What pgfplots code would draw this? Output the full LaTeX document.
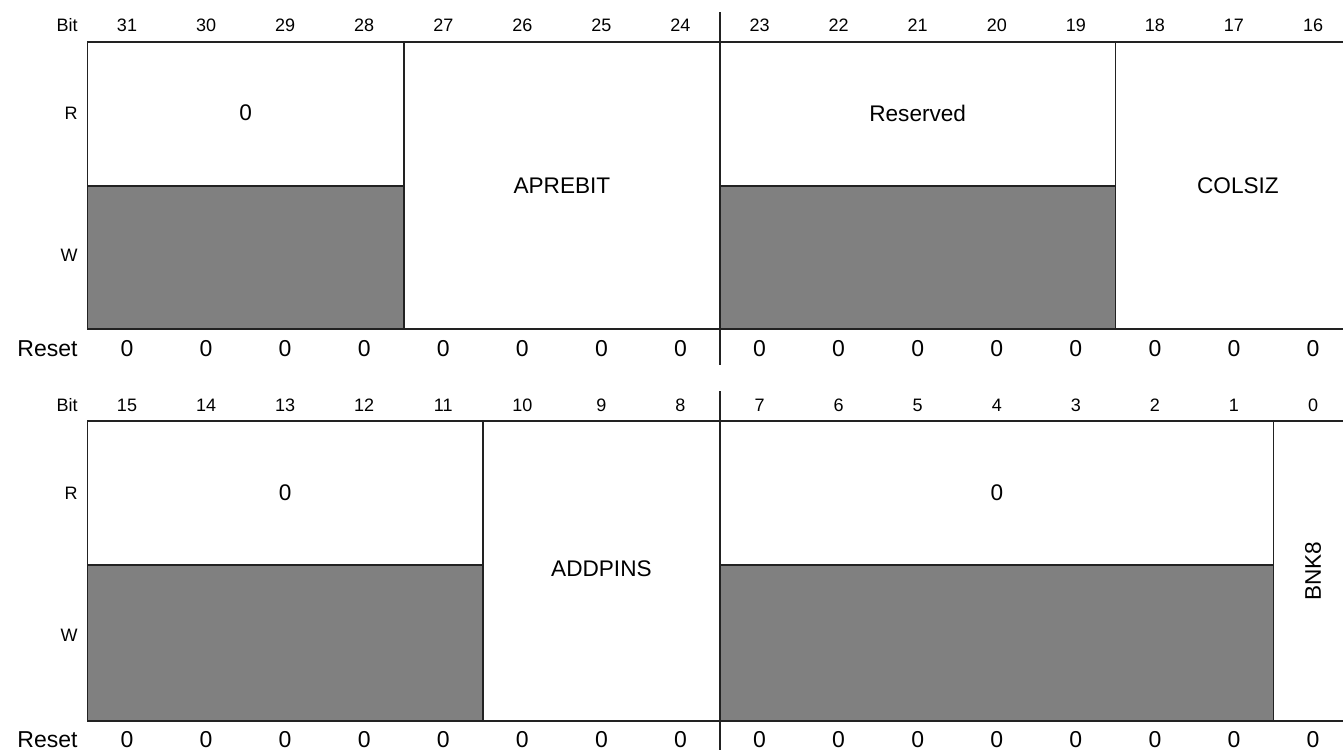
\documentclass[border=0pt]{standalone}
\usepackage{fontspec}
\setmainfont{Liberation Sans}
\usepackage{pgfplots}
\pgfplotsset{compat=1.18}
\definecolor{wfill}{HTML}{808080}
\definecolor{lin}{HTML}{222222}
\begin{document}
\begin{tikzpicture}[
  bitlab/.style={font=\fontsize{9}{10}\selectfont, inner sep=0pt},
  rst/.style={font=\fontsize{11.5}{13}\selectfont, inner sep=0pt},
  fld/.style={font=\fontsize{11.3}{13}\selectfont, inner sep=0pt},
  side/.style={anchor=east, inner sep=0pt},
  bl/.style={lin, line width=0.75pt},
  dv/.style={lin, line width=1.1pt}]
\path[use as bounding box] (0,0) rectangle (671.5pt,375pt);
\begin{axis}[at={(0,0)}, anchor=south west, scale only axis,
  width=671.5pt, height=375pt,
  xmin=-1.6062, xmax=15.3788, ymin=0, ymax=750, y dir=reverse,
  hide axis, clip mode=individual]
% ---------- top register (bits 31..16)
\addplot[draw=none, fill=wfill] coordinates {(-0.5,186) (3.5,186) (3.5,329) (-0.5,329) (-0.5,186)};
\addplot[draw=none, fill=wfill] coordinates {(7.5,186) (12.5,186) (12.5,329) (7.5,329) (7.5,186)};
\addplot[bl] coordinates {(-0.5,42) (15.5,42) (15.5,329) (-0.5,329) (-0.5,42)};
\addplot[bl] coordinates {(3.5,42) (3.5,329)};
\addplot[bl] coordinates {(7.5,12) (7.5,365)};
\addplot[bl] coordinates {(12.5,42) (12.5,329)};
\addplot[dv] coordinates {(-0.5,186) (3.5,186)};
\addplot[dv] coordinates {(7.5,186) (12.5,186)};
% ---------- bottom register (bits 15..0)
\addplot[draw=none, fill=wfill] coordinates {(-0.5,565) (4.5,565) (4.5,721) (-0.5,721) (-0.5,565)};
\addplot[draw=none, fill=wfill] coordinates {(7.5,565) (14.5,565) (14.5,721) (7.5,721) (7.5,565)};
\addplot[bl] coordinates {(-0.5,421) (15.5,421) (15.5,721) (-0.5,721) (-0.5,421)};
\addplot[bl] coordinates {(4.5,421) (4.5,721)};
\addplot[bl] coordinates {(7.5,391) (7.5,750)};
\addplot[bl] coordinates {(14.5,421) (14.5,721)};
\addplot[dv] coordinates {(-0.5,565) (4.5,565)};
\addplot[dv] coordinates {(7.5,565) (14.5,565)};
% ---------- bit numbers and reset values
\pgfplotsinvokeforeach{0,...,15}{
  \node[bitlab] at (axis cs:#1,25) {\the\numexpr31-#1\relax};
  \node[bitlab] at (axis cs:#1,405) {\the\numexpr15-#1\relax};
  \node[rst] at (axis cs:#1,349) {0};
  \node[rst] at (axis cs:#1,740) {0};
}
% ---------- side labels
\node[side, font=\fontsize{9}{10}\selectfont] at (axis cs:-0.62,25) {Bit};
\node[side, font=\fontsize{9}{10}\selectfont] at (axis cs:-0.62,113) {R};
\node[side, font=\fontsize{9}{10}\selectfont] at (axis cs:-0.62,255) {W};
\node[side, font=\fontsize{11.5}{13}\selectfont] at (axis cs:-0.62,349) {Reset};
\node[side, font=\fontsize{9}{10}\selectfont] at (axis cs:-0.62,405) {Bit};
\node[side, font=\fontsize{9}{10}\selectfont] at (axis cs:-0.62,493) {R};
\node[side, font=\fontsize{9}{10}\selectfont] at (axis cs:-0.62,635) {W};
\node[side, font=\fontsize{11.5}{13}\selectfont] at (axis cs:-0.62,740) {Reset};
% ---------- field names
\node[fld] at (axis cs:1.5,113) {0};
\node[fld] at (axis cs:5.5,185.5) {APREBIT};
\node[fld] at (axis cs:10,113) {Reserved};
\node[fld] at (axis cs:14.05,185.5) {COLSIZ};
\node[fld] at (axis cs:2,493) {0};
\node[fld] at (axis cs:6,569) {ADDPINS};
\node[fld] at (axis cs:11,493) {0};
\node[fld, rotate=90] at (axis cs:15,571) {BNK8};
\end{axis}
\end{tikzpicture}
\end{document}
